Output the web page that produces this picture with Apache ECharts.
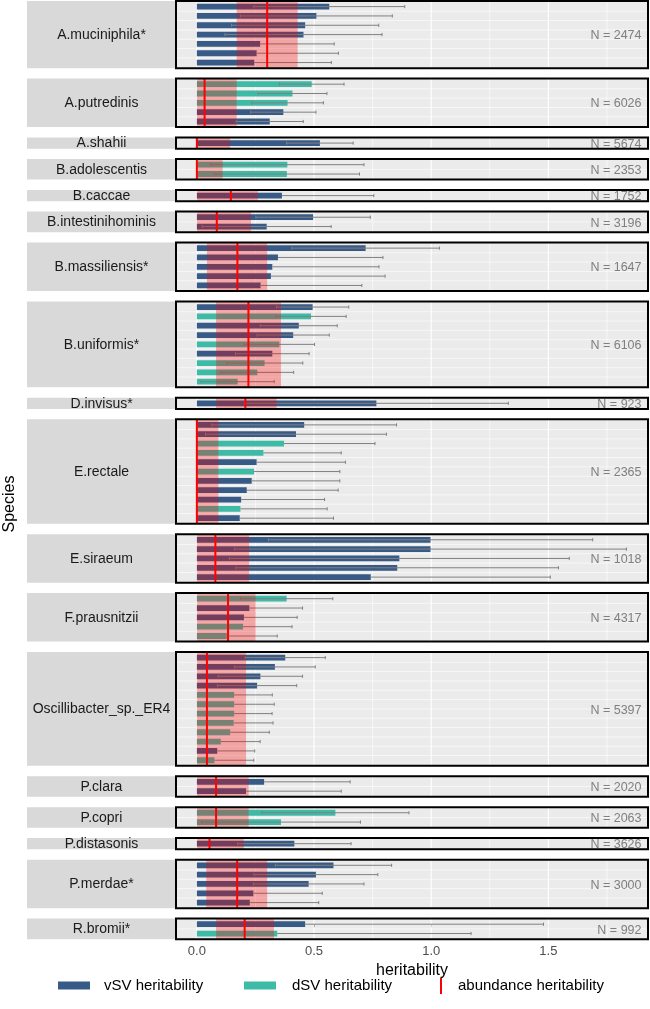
<!DOCTYPE html>
<html><head><meta charset="utf-8">
<script src="https://cdn.jsdelivr.net/npm/echarts@6/dist/echarts.min.js"></script>
<style>html,body{margin:0;padding:0;background:#fff}#c{width:650px;height:1009px}</style>
</head><body><div id="c"></div>
<script>
const species = ['A.muciniphila*', 'A.putredinis', 'A.shahii', 'B.adolescentis', 'B.caccae', 'B.intestinihominis', 'B.massiliensis*', 'B.uniformis*', 'D.invisus*', 'E.rectale', 'E.siraeum', 'F.prausnitzii', 'Oscillibacter_sp._ER4', 'P.clara', 'P.copri', 'P.distasonis', 'P.merdae*', 'R.bromii*'];
const sampleN = [2474, 6026, 5674, 2353, 1752, 3196, 1647, 6106, 923, 2365, 1018, 4317, 5397, 2020, 2063, 3626, 3000, 992];
// SV type of each bar: 'v' = vSV, 'd' = dSV
const svType = [
  ['v','v','v','v','v','v','v'],
  ['d','d','d','v','v'],
  ['v'],
  ['d','d'],
  ['v'],
  ['v','v'],
  ['v','v','v','v','v'],
  ['v','d','v','v','d','v','d','d','d'],
  ['v'],
  ['v','v','d','d','v','d','v','v','v','d','v'],
  ['v','v','v','v','v'],
  ['d','v','v','d','d'],
  ['v','v','v','v','d','d','d','d','d','d','v','d'],
  ['v','v'],
  ['d','d'],
  ['v'],
  ['v','v','v','v','v'],
  ['v','d']
];
const svH = [
  [0.565, 0.51, 0.462, 0.455, 0.27, 0.255, 0.245],
  [0.49, 0.408, 0.387, 0.369, 0.311],
  [0.525],
  [0.386, 0.384],
  [0.363],
  [0.496, 0.298],
  [0.72, 0.346, 0.322, 0.316, 0.272],
  [0.494, 0.487, 0.435, 0.411, 0.352, 0.322, 0.289, 0.258, 0.174],
  [0.766],
  [0.458, 0.423, 0.372, 0.284, 0.255, 0.244, 0.234, 0.213, 0.189, 0.186, 0.183],
  [0.997, 0.997, 0.864, 0.855, 0.742],
  [0.383, 0.224, 0.201, 0.197, 0.128],
  [0.377, 0.333, 0.271, 0.257, 0.159, 0.159, 0.159, 0.157, 0.142, 0.102, 0.087, 0.075],
  [0.287, 0.21],
  [0.591, 0.359],
  [0.416],
  [0.583, 0.508, 0.477, 0.241, 0.226],
  [0.462, 0.343]
];
const ciUpper = [
  [0.887, 0.834, 0.776, 0.79, 0.586, 0.604, 0.574],
  [0.628, 0.555, 0.54, 0.508, 0.454],
  [0.667],
  [0.713, 0.694],
  [0.755],
  [0.74, 0.573],
  [1.035, 0.794, 0.777, 0.803, 0.704],
  [0.648, 0.637, 0.599, 0.565, 0.502, 0.479, 0.452, 0.413, 0.33],
  [1.329],
  [0.852, 0.809, 0.76, 0.616, 0.634, 0.61, 0.61, 0.603, 0.545, 0.556, 0.583],
  [1.689, 1.833, 1.589, 1.543, 1.508],
  [0.58, 0.451, 0.428, 0.406, 0.343],
  [0.548, 0.505, 0.451, 0.426, 0.322, 0.33, 0.321, 0.325, 0.309, 0.27, 0.247, 0.243],
  [0.654, 0.616],
  [0.905, 0.698],
  [0.658],
  [0.831, 0.772, 0.713, 0.535, 0.52],
  [1.479, 1.17]
];
const ciLower = [
  [0.243, 0.186, 0.148, 0.12, null, null, null],
  [0.352, 0.261, 0.234, 0.23, 0.168],
  [0.383],
  [0.059, 0.074],
  [null],
  [0.252, 0.023],
  [0.405, null, null, null, null],
  [0.34, 0.337, 0.271, 0.257, 0.202, 0.165, 0.126, 0.103, 0.018],
  [0.203],
  [0.064, 0.037, null, null, null, null, null, null, null, null, null],
  [0.305, 0.161, 0.139, 0.167, null],
  [0.186, null, null, null, null],
  [0.206, 0.161, 0.091, 0.088, null, null, null, null, null, null, null, null],
  [null, null],
  [0.277, 0.02],
  [0.174],
  [0.335, 0.244, 0.241, null, null],
  [null, null]
];
const abundH  = [0.30, 0.033, 0.0, 0.0, 0.145, 0.085, 0.173, 0.22, 0.207, 0.0, 0.079, 0.133, 0.043, 0.082, 0.082, 0.054, 0.172, 0.204];
const abundLo = [0.17, 0, 0, 0, 0, 0, 0.043, 0.082, 0.082, 0, 0, 0, 0, 0, 0, 0, 0.04, 0.082];
const abundHi = [0.43, 0.17, 0.142, 0.11, 0.26, 0.231, 0.30, 0.359, 0.34, 0.092, 0.223, 0.251, 0.21, 0.221, 0.221, 0.2, 0.3, 0.329];
const majorBreaks = [0, 0.5, 1.0, 1.5];
const minorBreaks = [0.25, 0.75, 1.25, 1.75];
const tickLabels = ['0.0', '0.5', '1.0', '1.5'];

// ---- styling / layout ----
const FONT = 'Liberation Sans, Arial, Helvetica, sans-serif';
const C_V = '#375A87', C_D = '#3DBBA7', C_ERR = '#808080';
const TOP0 = 1, GAP = 10.4, UNIT = 9.33, LEFT = 176, RIGHT = 648, STRIP_L = 27;
const XMIN = -0.089, XMAX = 1.925, BARW = 0.62;

const chart = echarts.init(document.getElementById('c'));
const grids = [], xAxes = [], yAxes = [], series = [], graphics = [];
let yTop = TOP0;
species.forEach((sp, i) => {
  const n = svH[i].length;
  const h = (n + 0.2) * UNIT;
  const yLo = -0.6, yHi = n - 0.4;
  const last = i === species.length - 1;
  grids.push({left: LEFT, top: yTop, width: RIGHT - LEFT, height: h, show: true,
    backgroundColor: '#EBEBEB', borderWidth: 0});
  xAxes.push(last ? {
    type: 'value', gridIndex: i, min: XMIN, max: XMAX,
    axisLine: {show: false}, splitLine: {show: false},
    axisTick: {show: true, customValues: majorBreaks, length: 3, lineStyle: {color: '#333', width: 1}},
    axisLabel: {customValues: majorBreaks, margin: 6, color: '#4D4D4D', fontSize: 13, fontFamily: FONT,
      formatter: v => tickLabels[majorBreaks.findIndex(b => Math.abs(b - v) < 1e-9)] },
    name: 'heritability', nameLocation: 'middle', nameGap: 23,
    nameTextStyle: {fontSize: 16, color: '#000', fontFamily: FONT}
  } : {type: 'value', gridIndex: i, min: XMIN, max: XMAX, show: false});
  yAxes.push({type: 'value', gridIndex: i, min: yLo, max: yHi, inverse: true, show: false});
  const ax = {xAxisIndex: i, yAxisIndex: i};

  // vertical grid lines
  series.push(Object.assign({
    type: 'custom', z: 1, silent: true, clip: true,
    data: majorBreaks.map(v => [v, 1]).concat(minorBreaks.map(v => [v, 0])),
    renderItem: (p, api) => {
      const a = api.coord([api.value(0), yLo]), b = api.coord([api.value(0), yHi]);
      return {type: 'line', shape: {x1: a[0], y1: a[1], x2: b[0], y2: b[1]},
        style: {stroke: '#FFFFFF', lineWidth: api.value(1) ? 1.1 : 0.6}};
    }
  }, ax));
  // horizontal lines between rows
  series.push(Object.assign({
    type: 'custom', z: 1, silent: true, clip: true,
    data: svH[i].slice(1).map((_, r) => [r + 0.5]),
    renderItem: (p, api) => {
      const a = api.coord([XMIN, api.value(0)]), b = api.coord([XMAX, api.value(0)]);
      return {type: 'line', shape: {x1: a[0], y1: a[1], x2: b[0], y2: b[1]},
        style: {stroke: '#FFFFFF', lineWidth: 0.6}};
    }
  }, ax));
  // bars, one series per SV type
  [['v', 'vSV heritability', C_V], ['d', 'dSV heritability', C_D]].forEach(([t, name, col]) => {
    const d = [];
    svH[i].forEach((v, r) => { if (svType[i][r] === t) d.push([v, r]); });
    series.push(Object.assign({
      type: 'custom', name: name, z: 2, clip: true, itemStyle: {color: col},
      data: d,
      renderItem: (p, api) => {
        const a = api.coord([0, api.value(1)]), b = api.coord([api.value(0), api.value(1)]);
        const bh = api.size([0, 1])[1] * BARW;
        return {type: 'rect', shape: {x: a[0], y: a[1] - bh / 2, width: b[0] - a[0], height: bh},
          style: {fill: col}};
      }
    }, ax));
  });
  // error bars
  series.push(Object.assign({
    type: 'custom', z: 3, silent: true, clip: true,
    data: svH[i].map((v, r) => [v, ciUpper[i][r], r]),
    renderItem: (p, api) => {
      const r = api.value(2), lo = ciLower[i][p.dataIndex];
      const start = lo === null ? api.value(0) : lo;
      const a = api.coord([start, r]), b = api.coord([api.value(1), r]);
      const cap = 1.6;
      const kids = [
        {type: 'line', shape: {x1: a[0], y1: a[1], x2: b[0], y2: b[1]}, style: {stroke: C_ERR, lineWidth: 1}},
        {type: 'line', shape: {x1: b[0], y1: b[1] - cap, x2: b[0], y2: b[1] + cap}, style: {stroke: C_ERR, lineWidth: 1}}
      ];
      if (lo !== null) kids.push({type: 'line', shape: {x1: a[0], y1: a[1] - cap, x2: a[0], y2: a[1] + cap}, style: {stroke: C_ERR, lineWidth: 1}});
      return {type: 'group', children: kids};
    }
  }, ax));
  // abundance heritability: CI band + estimate line
  series.push(Object.assign({
    type: 'custom', name: 'abundance heritability', z: 4, clip: true, itemStyle: {color: '#FF0000'},
    data: [[abundH[i], abundLo[i], abundHi[i]]],
    renderItem: (p, api) => {
      const a = api.coord([api.value(1), yLo]), b = api.coord([api.value(2), yHi]);
      const c = api.coord([api.value(0), yLo]), e = api.coord([api.value(0), yHi]);
      return {type: 'group', children: [
        {type: 'rect', shape: {x: a[0], y: a[1], width: b[0] - a[0], height: b[1] - a[1]},
          style: {fill: 'rgba(255,0,0,0.3)'}},
        {type: 'line', shape: {x1: c[0], y1: c[1], x2: e[0], y2: e[1]}, style: {stroke: '#FF0000', lineWidth: 2}}
      ]};
    }
  }, ax));
  // N label
  series.push(Object.assign({
    type: 'custom', z: 5, silent: true, clip: true,
    data: [[XMAX, (yLo + yHi) / 2, sampleN[i]]],
    renderItem: (p, api) => {
      const c = api.coord([api.value(0), api.value(1)]);
      return {type: 'text', x: c[0] - 6.5, y: c[1] + 1.2,
        style: {text: 'N = ' + api.value(2), fill: '#7F7F7F', fontSize: 12.5, fontFamily: FONT,
          align: 'right', verticalAlign: 'middle'}};
    }
  }, ax));

  // strip (facet label) and panel frame
  graphics.push({type: 'rect', z: 50, shape: {x: STRIP_L, y: yTop, width: LEFT - STRIP_L - 1, height: h},
    style: {fill: '#D9D9D9'}, silent: true});
  graphics.push({type: 'text', z: 51, x: (STRIP_L + LEFT) / 2, y: yTop + h / 2 + 0.5,
    style: {text: sp, fill: '#1A1A1A', font: '14px ' + FONT, align: 'center', verticalAlign: 'middle',
      textAlign: 'center', textVerticalAlign: 'middle'}, silent: true});
  graphics.push({type: 'rect', z: 60, shape: {x: LEFT, y: yTop, width: RIGHT - LEFT, height: h},
    style: {fill: 'none', stroke: '#000', lineWidth: 2}, silent: true});
  yTop += h + GAP;
});

graphics.push({type: 'text', x: 10, y: 504, rotation: Math.PI / 2,
  style: {text: 'Species', fill: '#000', font: '16px ' + FONT, align: 'center', verticalAlign: 'middle',
    textAlign: 'center', textVerticalAlign: 'middle'}});

const legendBase = {orient: 'horizontal', padding: 0, top: 978, selectedMode: false,
  textStyle: {fontSize: 15, color: '#000', fontFamily: FONT}};
chart.setOption({
  animation: false,
  grid: grids, xAxis: xAxes, yAxis: yAxes, series: series, graphic: graphics,
  legend: [
    Object.assign({}, legendBase, {left: 58, itemWidth: 32, itemHeight: 8,
      data: [{name: 'vSV heritability', icon: 'rect', itemStyle: {color: C_V}}],
      textStyle: Object.assign({}, legendBase.textStyle, {padding: [0, 0, 0, 9]})}),
    Object.assign({}, legendBase, {left: 244, itemWidth: 32, itemHeight: 8,
      data: [{name: 'dSV heritability', icon: 'rect', itemStyle: {color: C_D}}],
      textStyle: Object.assign({}, legendBase.textStyle, {padding: [0, 0, 0, 11]})}),
    Object.assign({}, legendBase, {left: 440, itemWidth: 2, itemHeight: 16,
      data: [{name: 'abundance heritability', icon: 'rect', itemStyle: {color: '#FF0000'}}],
      textStyle: Object.assign({}, legendBase.textStyle, {padding: [0, 0, 0, 11]})})
  ]
});
</script></body></html>
